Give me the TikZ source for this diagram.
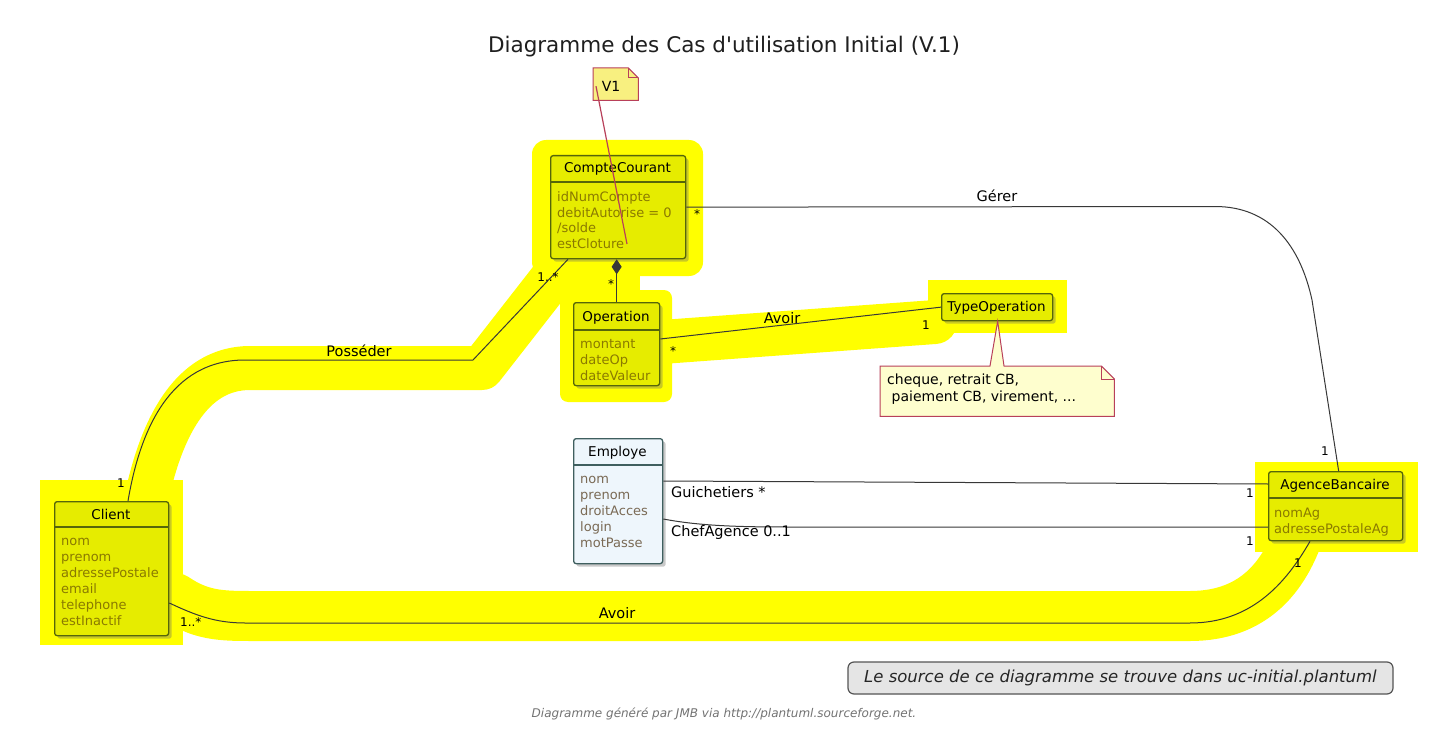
\documentclass[tikz,border=0pt]{standalone}
\usepackage{fontspec}
\setmainfont{DejaVu Sans}
\newfontfamily\titlefont{DejaVu Sans}
\usetikzlibrary{arrows.meta,shadows,calc}
\definecolor{hl}{HTML}{FFFF00}
\definecolor{clsfill}{HTML}{E6EC00}
\definecolor{clsborder}{HTML}{55660A}
\definecolor{attrcol}{HTML}{8A7A00}
\definecolor{empfill}{HTML}{EEF6FC}
\definecolor{empborder}{HTML}{3F5F5F}
\definecolor{empattr}{HTML}{7A6A55}
\definecolor{linecol}{HTML}{383838}
\definecolor{notefill}{HTML}{F8F080}
\definecolor{notefillb}{HTML}{FEFECE}
\definecolor{noteborder}{HTML}{B8405A}
\definecolor{srcfill}{HTML}{E5E5E5}
\definecolor{srcborder}{HTML}{555555}
\begin{document}
\begin{tikzpicture}[x=1pt,y=-1pt,
  cls/.style={draw=clsborder, fill=clsfill, line width=1.3pt, rounded corners=2.5pt,
    drop shadow={shadow xshift=3pt,shadow yshift=-3pt,opacity=0.35,fill=black!60},
    inner sep=0pt, anchor=north west},
  empcls/.style={cls, draw=empborder, fill=empfill},
  hdr/.style={font=\fontsize{13.5}{16}\selectfont, anchor=base, inner sep=0pt},
  attrY/.style={text=attrcol, font=\fontsize{13}{15}\selectfont, anchor=base west, inner sep=0pt},
  attrE/.style={attrY, text=empattr},
  assoc/.style={draw=linecol, line width=1pt},
  lbl/.style={font=\fontsize{14.5}{17}\selectfont, inner sep=0pt},
  mult/.style={font=\fontsize{12}{14}\selectfont, inner sep=0pt},
  hlband/.style={draw=hl, line cap=round, line join=round}
]
\useasboundingbox (0,0) rectangle (1433,749);
\fill[white] (0,0) rectangle (1433,749);

% ---------- highlighter ----------
\fill[hl, rounded corners=14pt] (532,140) rectangle (703,276);
\draw[hlband, line width=44pt] (560,268) -- (482,368) -- (250,368) .. controls (190,368) and (160,430) .. (145,505);
\fill[hl] (560,262) rectangle (640,300);
\fill[hl, rounded corners=8pt] (560,290) rectangle (672,402);
\draw[hlband, line width=44pt] (662,342) -- (935,322);
\fill[hl] (928,280) rectangle (1067,333);
\fill[hl] (40,480) rectangle (183,645);
\draw[hlband, line width=50pt] (175,598) .. controls (200,615) and (220,616) .. (250,616) -- (1190,616) .. controls (1255,616) and (1285,575) .. (1300,530);
\fill[hl] (1255,462) rectangle (1418,552);

% ---------- title ----------
\node[font=\titlefont\fontsize{21.5}{24}\selectfont, text=black!88, inner sep=0pt] (title) at (724,47) {Diagramme des Cas d'utilisation Initial (V.1)};

% ---------- classes ----------
% CompteCourant
\node[cls, minimum width=135pt, minimum height=103pt] (cc) at (550,155) {};
\draw[clsborder, line width=1.3pt] ($(cc.north west)+(0,27)$) -- ($(cc.north east)+(0,27)$);
\node[hdr] (cch) at (617.5,173) {CompteCourant};
\foreach \t [count=\i] in {idNumCompte, debitAutorise = 0, /solde, estCloture}
  \node[attrY] (cca\i) at (557,{201.5+15.7*(\i-1)}) {\t};

% Operation
\node[cls, minimum width=86pt, minimum height=83pt] (op) at (573,302) {};
\draw[clsborder, line width=1.3pt] ($(op.north west)+(0,28)$) -- ($(op.north east)+(0,28)$);
\node[hdr] (oph) at (616,321) {Operation};
\foreach \t [count=\i] in {montant, dateOp, dateValeur}
  \node[attrY] (opa\i) at (580,{348.5+16*(\i-1)}) {\t};

% TypeOperation
\node[cls, minimum width=111pt, minimum height=27pt] (to) at (941,293) {};
\node[hdr] (toh) at (996.5,311.5) {TypeOperation};

% Employe
\node[empcls, minimum width=89pt, minimum height=125pt] (emp) at (573,438) {};
\draw[empborder, line width=1.3pt] ($(emp.north west)+(0,27)$) -- ($(emp.north east)+(0,27)$);
\node[hdr] (emph) at (617.5,456) {Employe};
\foreach \t [count=\i] in {nom, prenom, droitAcces, login, motPasse}
  \node[attrE] (empa\i) at (580,{483.5+16*(\i-1)}) {\t};

% AgenceBancaire
\node[cls, minimum width=134pt, minimum height=69pt] (ab) at (1268,471) {};
\draw[clsborder, line width=1.3pt] ($(ab.north west)+(0,27)$) -- ($(ab.north east)+(0,27)$);
\node[hdr] (abh) at (1335,489) {AgenceBancaire};
\foreach \t [count=\i] in {nomAg, adressePostaleAg}
  \node[attrY] (aba\i) at (1274,{517.5+15.5*(\i-1)}) {\t};

% Client
\node[cls, minimum width=114pt, minimum height=134pt] (cl) at (54,501) {};
\draw[clsborder, line width=1.3pt] ($(cl.north west)+(0,26)$) -- ($(cl.north east)+(0,26)$);
\node[hdr] (clh) at (111,519) {Client};
\foreach \t [count=\i] in {nom, prenom, adressePostale, email, telephone, estInactif}
  \node[attrY] (cla\i) at (61,{545.5+16*(\i-1)}) {\t};

% ---------- notes ----------
\node[inner sep=0pt, minimum width=45pt, minimum height=32pt, anchor=north west] (v1) at (593,68) {};
\filldraw[fill=notefill, draw=noteborder, line width=1pt]
  (v1.north west) -- ($(v1.north east)+(-10,0)$) -- ($(v1.north east)+(0,10)$) -- (v1.south east) -- (v1.south west) -- cycle;
\draw[noteborder, line width=1pt] ($(v1.north east)+(-10,0)$) -- ($(v1.north east)+(-10,10)$) -- ($(v1.north east)+(0,10)$);
\node[font=\fontsize{14}{16}\selectfont, inner sep=0pt] (v1t) at (611,86) {V1};
\coordinate (v1end) at (627,244);
\draw[noteborder, line width=1.2pt] ($(v1.west)+(3,2)$) -- (v1end);

\node[inner sep=0pt, minimum width=234pt, minimum height=50pt, anchor=north west] (nt) at (880,366) {};
\filldraw[fill=notefillb, draw=noteborder, line width=1pt]
  (nt.north west) -- (990,366) -- ($(to.south)+(0.5,0)$) -- (1004,366) -- ($(nt.north east)+(-13,0)$) -- ($(nt.north east)+(0,13)$) -- (nt.south east) -- (nt.south west) -- cycle;
\draw[noteborder, line width=1pt] ($(nt.north east)+(-13,0)$) -- ($(nt.north east)+(-13,13)$) -- ($(nt.north east)+(0,13)$);
\node[font=\fontsize{14}{16.5}\selectfont, align=left, inner sep=0pt, anchor=north west] (ntt) at (887,374) {cheque, retrait CB,\\\ paiement CB, virement, ...};

% ---------- connectors ----------
\draw[assoc] (cc.east) -- (1215,206.5) .. controls (1270,206.5) and (1300,245) .. (1312,300) -- ($(ab.north)+(3,0)$);
\node[lbl] (gerer) at (997,196) {Gérer};
\node[mult] (m1) at (697,214) {*};
\node[mult] (m2) at (1325,451) {1};

\draw[assoc] ($(cl.north west)+(74,0)$) .. controls (140,430) and (170,360) .. (245,360) -- (473,360) -- ($(cc.south west)+(18,0)$);
\node[lbl] (poss) at (359,351) {Posséder};
\node[mult] (m3) at (121,483) {1};
\node[mult] (m4) at (548,277) {1..*};

\draw[assoc, -{Diamond[length=15pt,width=10pt]}] (op.north) -- (op.north |- cc.south);
\node[mult] (m5) at (611,284) {*};

\draw[assoc] ($(op.north east)+(0,37)$) -- (to.west);
\node[lbl] (avoir1) at (782,318) {Avoir};
\node[mult] (m6) at (673,351) {*};
\node[mult] (m7) at (926,325) {1};

\draw[assoc] ($(emp.north east)+(0,43)$) -- ($(ab.north west)+(0,13)$);
\node[lbl, anchor=west] (guich) at (671,492) {Guichetiers *};
\node[mult] (m8) at (1250,493) {1};

\draw[assoc] ($(emp.north east)+(0,81)$) .. controls (700,526) and (740,527) .. (790,527) -- ($(ab.north west)+(0,56)$);
\node[lbl, anchor=west] (chef) at (671,532) {ChefAgence 0..1};
\node[mult] (m9) at (1250,541) {1};

\draw[assoc] ($(cl.north east)+(0,102)$) .. controls (195,615) and (215,623) .. (245,623) -- (1190,623) .. controls (1250,623) and (1285,585) .. ($(ab.south west)+(42,0)$);
\node[lbl] (avoir2) at (617,613) {Avoir};
\node[mult, anchor=west] (m10) at (180,622) {1..*};
\node[mult] (m11) at (1298,563) {1};

% ---------- footer ----------
\node[draw=srcborder, fill=srcfill, rounded corners=6pt, line width=1.2pt, minimum width=545pt, minimum height=32pt, inner sep=0pt,
  font=\fontsize{16.5}{18}\selectfont\itshape, text=black!85] (src) at (1120.5,678) {Le source de ce diagramme se trouve dans uc-initial.plantuml};
\node[font=\fontsize{12}{14}\selectfont\itshape, text=black!55, inner sep=0pt] (foot) at (724,714) {Diagramme généré par JMB via http://plantuml.sourceforge.net.};
\end{tikzpicture}
\end{document}
